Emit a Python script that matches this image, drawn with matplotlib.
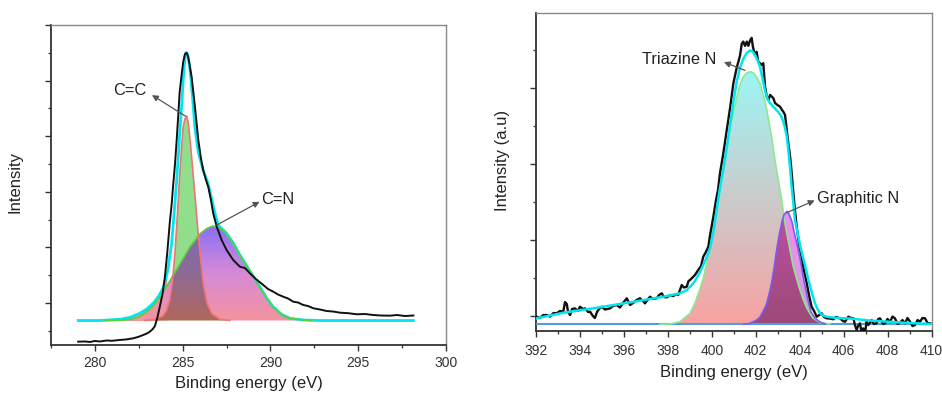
import numpy as np
import matplotlib
matplotlib.use('Agg')
import matplotlib.pyplot as plt
from matplotlib.colors import LinearSegmentedColormap
from matplotlib.path import Path
from matplotlib.ticker import MultipleLocator, NullFormatter

plt.rcParams['font.family'] = ['Liberation Sans', 'DejaVu Sans']

# ---- C 1s (left panel) ----
c1s_be = [279.05, 279.43, 279.72, 280.0, 280.28, 280.67, 280.97, 281.42, 281.77, 282.18,
          282.45, 282.75, 282.96, 283.13, 283.30, 283.42, 283.55, 283.70, 283.86, 283.99,
          284.12, 284.27, 284.37, 284.46, 284.56, 284.66, 284.75, 284.83, 284.94, 285.03,
          285.13, 285.23, 285.30, 285.37, 285.51, 285.70, 285.89, 286.04, 286.17, 286.33,
          286.46, 286.61, 286.74, 286.94, 287.22, 287.50, 287.88, 288.26, 288.55, 288.83,
          289.17, 289.59, 289.86, 290.16, 290.43, 290.73, 291.0, 291.30, 291.57, 291.87,
          292.14, 292.44, 292.82, 293.20, 293.56, 293.96, 294.42, 294.91, 295.38, 295.86,
          296.30, 296.81, 297.21, 297.66, 298.14]
c1s_int = [0.304, 0.308, 0.299, 0.317, 0.308, 0.326, 0.32, 0.335, 0.344, 0.365,
           0.388, 0.424, 0.451, 0.484, 0.532, 0.586, 0.725, 0.933, 1.174, 1.473,
           1.894, 2.457, 2.763, 3.122, 3.482, 3.932, 4.381, 4.795, 5.101, 5.335,
           5.479, 5.497, 5.443, 5.335, 5.07, 4.531, 3.932, 3.608, 3.392, 3.212,
           3.086, 2.853, 2.613, 2.372, 2.133, 1.953, 1.773, 1.653, 1.629, 1.534,
           1.432, 1.324, 1.252, 1.203, 1.153, 1.113, 1.081, 1.023, 1.009, 0.964,
           0.946, 0.905, 0.883, 0.856, 0.847, 0.826, 0.817, 0.797, 0.802, 0.784,
           0.775, 0.772, 0.784, 0.766, 0.775]

c1s_env_be = [279.05, 280.28, 281.42, 281.99, 282.56, 282.96, 283.32, 283.61, 283.89, 284.09,
              284.18, 284.27, 284.37, 284.46, 284.56, 284.66, 284.75, 284.84, 284.94, 285.01,
              285.07, 285.13, 285.19, 285.24, 285.32, 285.45, 285.56, 285.70, 285.89, 286.17,
              286.46, 286.74, 286.89, 287.03, 287.50, 287.88, 288.26, 288.83, 289.40, 289.78,
              290.16, 290.64, 291.11, 291.87, 292.82, 298.14]
c1s_env = [0.685, 0.685, 0.707, 0.739, 0.815, 0.892, 0.995, 1.113, 1.27, 1.504,
           1.63, 1.845, 2.061, 2.403, 2.793, 3.212, 3.631, 4.076, 4.531, 4.903,
           5.191, 5.389, 5.506, 5.497, 5.425, 5.101, 4.711, 4.148, 3.716, 3.383,
           3.14, 2.745, 2.547, 2.403, 2.254, 2.079, 1.863, 1.576, 1.288, 1.09,
           0.928, 0.793, 0.725, 0.694, 0.685, 0.685]

cc_be = [282.85, 283.42, 283.88, 284.09, 284.27, 284.43, 284.56, 284.66, 284.75, 284.84,
         284.94, 285.03, 285.13, 285.23, 285.32, 285.45, 285.60, 285.76, 285.89, 286.04,
         286.18, 286.38, 286.67, 287.12, 287.69]
cc_int = [0.687, 0.703, 0.766, 0.874, 1.054, 1.414, 1.899, 2.367, 2.853, 3.338,
          3.806, 4.166, 4.31, 4.363, 4.237, 3.842, 3.302, 2.709, 2.223, 1.737,
          1.324, 1.0, 0.802, 0.707, 0.687]

cn_be = [280.57, 281.31, 281.99, 282.56, 283.13, 283.70, 284.27, 284.84, 285.41, 285.98,
         286.38, 286.72, 287.12, 287.50, 287.88, 288.26, 288.83, 289.40, 289.78, 290.16,
         290.64, 291.11, 291.87, 292.36]
cn_int = [0.685, 0.685, 0.703, 0.757, 0.883, 1.099, 1.396, 1.701, 2.007, 2.241,
          2.34, 2.385, 2.349, 2.254, 2.079, 1.863, 1.576, 1.288, 1.09, 0.928,
          0.793, 0.725, 0.694, 0.685]
c1s_base = 0.685

# ---- N 1s (right panel) ----
n1s_be = [392.03, 392.18, 392.33, 392.49, 392.64, 392.79, 392.94, 393.09, 393.24, 393.32,
          393.40, 393.46, 393.55, 393.64, 393.77, 393.91, 394.00, 394.14, 394.23, 394.37,
          394.46, 394.59, 394.68, 394.78, 394.91, 394.99, 395.14, 395.37, 395.50, 395.67,
          395.82, 395.97, 396.13, 396.28, 396.41, 396.58, 396.73, 396.87, 396.96, 397.10,
          397.19, 397.32, 397.49, 397.60, 397.72, 397.82, 397.95, 398.10, 398.25, 398.37,
          398.47, 398.55, 398.63, 398.73, 398.86, 398.94, 399.01, 399.14, 399.23, 399.38,
          399.51, 399.61, 399.73, 399.84, 399.92, 400.07, 400.19, 400.28, 400.37, 400.51,
          400.68, 400.83, 400.98, 401.13, 401.28, 401.36, 401.43, 401.51, 401.59, 401.66,
          401.74, 401.81, 401.87, 401.96, 402.04, 402.11, 402.27, 402.34, 402.42, 402.50,
          402.57, 402.65, 402.80, 402.87, 402.98, 403.10, 403.19, 403.25, 403.33, 403.41,
          403.46, 403.56, 403.60, 403.71, 403.78, 403.86, 403.96, 404.09, 404.19, 404.32,
          404.42, 404.54, 404.65, 404.77, 404.88, 405.0, 405.10, 405.23, 405.38, 405.53,
          405.65, 405.83, 405.97, 406.06, 406.21, 406.33, 406.44, 406.51, 406.59, 406.65,
          406.74, 406.81, 406.89, 406.97, 407.04, 407.12, 407.27, 407.37, 407.49, 407.57,
          407.65, 407.79, 407.88, 407.99, 408.11, 408.22, 408.33, 408.45, 408.56, 408.67,
          408.79, 408.90, 409.02, 409.13, 409.24, 409.36, 409.47, 409.58, 409.70, 409.81,
          409.93]
n1s_int = [0.991, 0.974, 1.013, 1.013, 0.993, 1.039, 1.036, 1.066, 1.057, 1.184,
           1.158, 1.053, 1.013, 1.092, 1.101, 1.066, 1.122, 1.092, 1.101, 1.053,
           1.057, 1.0, 0.974, 1.057, 1.105, 1.122, 1.086, 1.101, 1.132, 1.145,
           1.112, 1.175, 1.233, 1.145, 1.171, 1.211, 1.233, 1.197, 1.167, 1.224,
           1.254, 1.224, 1.233, 1.276, 1.299, 1.25, 1.246, 1.276, 1.263, 1.289,
           1.276, 1.342, 1.408, 1.375, 1.386, 1.461, 1.474, 1.513, 1.539, 1.605,
           1.658, 1.78, 1.842, 1.912, 2.066, 2.307, 2.526, 2.658, 2.878, 3.118,
           3.447, 3.737, 4.062, 4.263, 4.421, 4.579, 4.609, 4.553, 4.609, 4.553,
           4.625, 4.658, 4.539, 4.434, 4.474, 4.346, 4.303, 4.325, 4.017, 3.886,
           3.842, 3.908, 3.865, 3.803, 3.776, 3.754, 3.711, 3.688, 3.645, 3.447,
           3.316, 3.096, 2.987, 2.614, 2.395, 2.175, 1.961, 1.78, 1.605, 1.43,
           1.276, 1.122, 1.066, 0.991, 1.013, 1.036, 0.987, 0.97, 0.967, 0.957,
           0.987, 0.97, 0.934, 0.925, 0.991, 0.974, 0.97, 0.882, 0.816, 0.868,
           0.904, 0.789, 0.838, 0.776, 0.925, 0.882, 0.947, 0.895, 0.904, 0.961,
           0.97, 0.895, 0.904, 0.961, 0.925, 0.993, 0.97, 0.895, 0.912, 0.947,
           0.904, 0.974, 0.925, 0.868, 0.882, 0.947, 0.925, 0.974, 0.97, 0.908,
           0.904]

n1s_env_be = [392.03, 393.24, 394.76, 396.28, 397.79, 398.55, 398.86, 399.01, 399.16, 399.31,
              399.46, 399.61, 399.77, 399.92, 400.07, 400.22, 400.37, 400.52, 400.68, 400.83,
              400.98, 401.13, 401.28, 401.43, 401.59, 401.74, 401.85, 401.96, 402.07, 402.19,
              402.30, 402.42, 402.55, 402.72, 402.87, 403.02, 403.15, 403.25, 403.33, 403.41,
              403.48, 403.56, 403.63, 403.71, 403.78, 403.94, 404.01, 404.13, 404.24, 404.35,
              404.47, 404.58, 404.69, 404.81, 404.92, 405.07, 405.23, 405.68, 406.29, 407.20,
              407.80, 408.71, 410.0]
n1s_env = [0.97, 1.043, 1.109, 1.18, 1.254, 1.299, 1.342, 1.386, 1.43, 1.5,
           1.579, 1.671, 1.776, 1.895, 2.105, 2.395, 2.684, 2.921, 3.211, 3.513,
           3.816, 4.079, 4.263, 4.382, 4.461, 4.493, 4.48, 4.434, 4.368, 4.28,
           4.132, 3.961, 3.842, 3.776, 3.730, 3.684, 3.632, 3.557, 3.474, 3.359,
           3.184, 2.947, 2.701, 2.483, 2.263, 2.043, 1.934, 1.789, 1.671, 1.526,
           1.395, 1.276, 1.171, 1.092, 1.039, 1.007, 0.991, 0.974, 0.967, 0.941,
           0.930, 0.912, 0.895]

tri_be = [397.64, 398.10, 398.55, 399.01, 399.23, 399.46, 399.61, 399.77, 399.99, 400.22,
          400.45, 400.68, 400.98, 401.13, 401.28, 401.43, 401.59, 401.74, 401.89, 402.04,
          402.19, 402.34, 402.50, 402.62, 402.74, 402.87, 402.96, 403.18, 403.28, 403.41,
          403.56, 403.69, 403.85, 404.01, 404.17, 404.32, 404.47, 404.60, 404.92, 405.38]
tri_int = [0.891, 0.895, 0.925, 1.036, 1.171, 1.355, 1.5, 1.697, 2.092, 2.487,
           2.855, 3.237, 3.684, 3.868, 4.039, 4.145, 4.197, 4.214, 4.197, 4.145,
           4.053, 3.908, 3.711, 3.513, 3.316, 3.053, 2.895, 2.526, 2.303, 2.092,
           1.868, 1.671, 1.5, 1.342, 1.211, 1.105, 1.033, 0.974, 0.914, 0.895]

gra_be = [401.47, 401.70, 402.04, 402.19, 402.34, 402.47, 402.56, 402.65, 402.74, 402.83,
          402.92, 403.01, 403.10, 403.19, 403.28, 403.41, 403.51, 403.65, 403.74, 403.86,
          403.94, 404.01, 404.15, 404.32, 404.42, 404.51, 404.69, 404.92, 405.15]
gra_int = [0.891, 0.901, 0.947, 0.987, 1.066, 1.145, 1.237, 1.342, 1.474, 1.632,
           1.816, 1.974, 2.118, 2.237, 2.329, 2.375, 2.342, 2.237, 2.105, 1.961,
           1.855, 1.763, 1.526, 1.276, 1.158, 1.053, 0.974, 0.921, 0.895]
n1s_base = 0.895


def grad_fill(ax, x, y, base, colors, zorder, other=None, other_colors=None, n=400):
    # vertical colour gradient clipped to the area under a peak;
    # where it overlaps another peak a second gradient is used
    x = np.asarray(x)
    y = np.asarray(y)
    poly = ax.fill_between(x, base, y, facecolor='none', edgecolor='none', zorder=zorder)
    top = y.max()
    X, Y = np.meshgrid(np.linspace(x.min(), x.max(), n), np.linspace(base, top, n))
    rgba = LinearSegmentedColormap.from_list('f', colors)((Y - base) / (top - base))
    if other is not None:
        ox, oy = np.asarray(other[0]), np.asarray(other[1])
        verts = np.column_stack([np.r_[ox, ox[::-1]], np.r_[oy, np.full(len(ox), base)]])
        inside = Path(verts).contains_points(np.column_stack([X.ravel(), Y.ravel()])).reshape(X.shape)
        orgba = LinearSegmentedColormap.from_list('o', other_colors)(
            np.clip((Y - base) / (oy.max() - base), 0, 1))
        rgba[inside] = orgba[inside]
    im = ax.imshow(rgba, extent=(x.min(), x.max(), base, top), origin='lower',
                   aspect='auto', zorder=zorder, interpolation='bilinear')
    im.set_clip_path(poly.get_paths()[0], transform=ax.transData)


def style_axes(ax, xmaj, xmin, ymaj, ymin, xpad):
    for s in ['left', 'bottom']:
        ax.spines[s].set_color('#333333')
        ax.spines[s].set_linewidth(1.3)
    for s in ['top', 'right']:
        ax.spines[s].set_color('#888888')
        ax.spines[s].set_linewidth(1.0)
    ax.xaxis.set_major_locator(MultipleLocator(xmaj))
    ax.xaxis.set_minor_locator(MultipleLocator(xmin))
    ax.yaxis.set_major_locator(MultipleLocator(ymaj))
    ax.yaxis.set_minor_locator(MultipleLocator(ymin))
    ax.yaxis.set_major_formatter(NullFormatter())
    ax.tick_params(which='major', direction='out', length=4.5, width=1.0, color='#333333',
                   labelsize=10, labelcolor='#333333')
    ax.tick_params(which='minor', direction='out', length=2.5, width=0.9, color='#333333')
    ax.tick_params(axis='x', which='major', pad=xpad)
    ax.tick_params(top=False, right=False, which='both')


def arrow(ax, head, tail):
    ax.annotate('', xy=head, xytext=tail,
                arrowprops=dict(arrowstyle='-|>', color='#555555', lw=0.9,
                                mutation_scale=9, shrinkA=0, shrinkB=0), zorder=8)


fig = plt.figure(figsize=(9.42, 3.96), dpi=100)

# ---------------- left: C 1s ----------------
ax1 = fig.add_axes([0.0541, 0.1288, 0.4194, 0.8081])
env_be = np.array(c1s_env_be)
env = np.array(c1s_env)
tail = env_be <= 284.09
ax1.fill_between(env_be[tail], c1s_base, env[tail], color='#f39292', lw=0, zorder=1)
grad_fill(ax1, cn_be, cn_int, c1s_base, ['#f5939d', '#d68ad8', '#8c6ff3'], zorder=2)
grad_fill(ax1, cc_be, cc_int, c1s_base, ['#92de8c', '#8ee08e'], zorder=3,
          other=(cn_be, cn_int), other_colors=['#b0675a', '#8e6a96', '#7d6cb5'])
ax1.plot(c1s_env_be, c1s_env, color='#00e6ee', lw=2.0, zorder=4)
ax1.plot(cn_be, cn_int, color='#5ccf3c', lw=1.2, zorder=5)
ax1.plot(cc_be, cc_int, color='#f07474', lw=1.2, zorder=5)
ax1.plot(c1s_be, c1s_int, color='#111111', lw=1.4, zorder=6)

ax1.text(282.95, 4.83, 'C=C', ha='right', va='center', fontsize=11.8, color='#222222')
arrow(ax1, (283.25, 4.74), (285.16, 4.36))
ax1.text(289.46, 2.87, 'C=N', ha='left', va='center', fontsize=11.8, color='#222222')
arrow(ax1, (289.38, 2.82), (286.93, 2.40))

style_axes(ax1, 5, 2.5, 1, 0.5, 3.5)
ax1.set_xlim(277.5, 300)
ax1.set_ylim(0.2446, 6.0)
ax1.set_xlabel('Binding energy (eV)', fontsize=12, color='#222222')
ax1.set_ylabel('Intensity', fontsize=12, color='#222222')
ax1.xaxis.set_label_coords(0.501, -0.097)
ax1.yaxis.set_label_coords(-0.071, 0.509)

# ---------------- right: N 1s ----------------
ax2 = fig.add_axes([0.569, 0.1641, 0.420, 0.804])
grad_fill(ax2, tri_be, tri_int, n1s_base, ['#f8a2a2', '#9ef5f5'], zorder=2)
grad_fill(ax2, gra_be, gra_int, n1s_base, ['#c9a3dc', '#f38af3'], zorder=3,
          other=(tri_be, tri_int), other_colors=['#9b4a78', '#c24fa8', '#d060c4'])
ax2.axhline(n1s_base, color='#5b9bd5', lw=1.5, zorder=4)
ax2.plot(tri_be, tri_int, color='#8ee88e', lw=1.2, zorder=5)
ax2.plot(gra_be, gra_int, color='#7a5cf0', lw=1.2, zorder=5)
ax2.plot(n1s_be, n1s_int, color='#111111', lw=1.7, zorder=6)
ax2.plot(n1s_env_be, n1s_env, color='#00e6ee', lw=1.8, zorder=7)

ax2.text(400.22, 4.38, 'Triazine N', ha='right', va='center', fontsize=11.8, color='#222222')
arrow(ax2, (400.55, 4.34), (401.51, 4.23))
ax2.text(404.8, 2.54, 'Graphitic N', ha='left', va='center', fontsize=11.8, color='#222222')
arrow(ax2, (404.68, 2.52), (403.41, 2.36))

style_axes(ax2, 2, 1, 1, 0.5, 4.5)
ax2.set_xlim(392, 410)
ax2.set_ylim(0.803, 4.99)
ax2.set_xlabel('Binding energy (eV)', fontsize=12, color='#222222')
ax2.set_ylabel('Intensity (a.u)', fontsize=12, color='#222222')
ax2.xaxis.set_label_coords(0.4996, -0.107)
ax2.yaxis.set_label_coords(-0.066, 0.537)

fig.savefig('out.png', dpi=100)
